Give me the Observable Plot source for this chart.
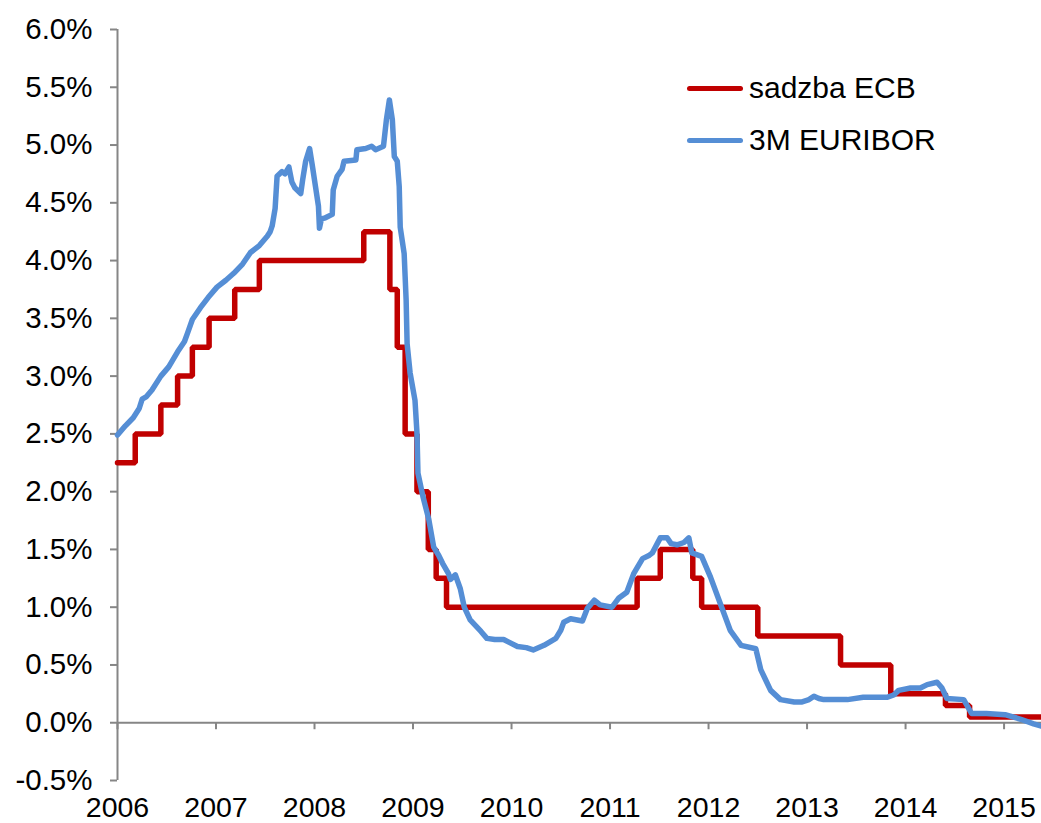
<!DOCTYPE html>
<html><head><meta charset="utf-8">
<script src="https://cdn.jsdelivr.net/npm/d3@7"></script>
<script src="https://cdn.jsdelivr.net/npm/@observablehq/plot@0.6"></script>
<style>
body{margin:0;background:#fff;}
#wrap{position:relative;width:1041px;height:823px;font-family:"Liberation Sans",Arial,sans-serif;}
.leg{position:absolute;left:687px;height:34px;font-size:30px;display:flex;align-items:center;color:#000;white-space:nowrap;}
.leg .sw{display:inline-block;width:56px;height:5px;border-radius:3px;margin-right:6px;}
</style></head>
<body>
<div id="wrap"></div>
<script>
// ECB main refinancing rate (step changes), time in decimal years
const ecbT = [2006.0, 2006.18, 2006.44, 2006.61, 2006.76, 2006.93, 2007.19, 2007.44, 2008.50, 2008.765, 2008.84, 2008.92, 2009.04, 2009.155, 2009.235, 2009.34, 2011.275, 2011.51, 2011.84, 2011.93, 2012.50, 2013.34, 2013.85, 2014.405, 2014.65, 2015.38];
const ecbV = [2.25, 2.50, 2.75, 3.00, 3.25, 3.50, 3.75, 4.00, 4.25, 3.75, 3.25, 2.50, 2.00, 1.50, 1.25, 1.00, 1.25, 1.50, 1.25, 1.00, 0.75, 0.50, 0.25, 0.15, 0.05, 0.05];

// 3M EURIBOR readings
const euriborT = [2006.00, 2006.08, 2006.16, 2006.22, 2006.25, 2006.29, 2006.35, 2006.44, 2006.52, 2006.61, 2006.68, 2006.71, 2006.76, 2006.84, 2006.92, 2007.01, 2007.10, 2007.18, 2007.27, 2007.35, 2007.44, 2007.52, 2007.55, 2007.57, 2007.60, 2007.62, 2007.67, 2007.70, 2007.74, 2007.77, 2007.80, 2007.86, 2007.88, 2007.91, 2007.95, 2007.98, 2008.01, 2008.04, 2008.05, 2008.07, 2008.11, 2008.18, 2008.19, 2008.23, 2008.28, 2008.30, 2008.42, 2008.43, 2008.52, 2008.58, 2008.62, 2008.70, 2008.73, 2008.76, 2008.79, 2008.81, 2008.84, 2008.86, 2008.87, 2008.91, 2008.92, 2008.93, 2008.94, 2008.97, 2009.02, 2009.04, 2009.05, 2009.10, 2009.16, 2009.21, 2009.26, 2009.30, 2009.36, 2009.38, 2009.43, 2009.48, 2009.52, 2009.58, 2009.69, 2009.75, 2009.83, 2009.92, 2010.06, 2010.15, 2010.22, 2010.33, 2010.45, 2010.50, 2010.53, 2010.60, 2010.72, 2010.77, 2010.84, 2010.90, 2011.02, 2011.09, 2011.17, 2011.24, 2011.33, 2011.40, 2011.43, 2011.51, 2011.58, 2011.62, 2011.68, 2011.75, 2011.80, 2011.83, 2011.93, 2012.02, 2012.12, 2012.22, 2012.33, 2012.48, 2012.53, 2012.58, 2012.63, 2012.73, 2012.87, 2012.95, 2013.02, 2013.07, 2013.12, 2013.17, 2013.41, 2013.57, 2013.81, 2013.88, 2013.93, 2014.05, 2014.15, 2014.22, 2014.32, 2014.37, 2014.42, 2014.59, 2014.67, 2014.82, 2015.01, 2015.17, 2015.30, 2015.38];
const euriborV = [2.49, 2.57, 2.64, 2.72, 2.80, 2.82, 2.88, 3.00, 3.08, 3.21, 3.30, 3.37, 3.49, 3.59, 3.68, 3.77, 3.83, 3.89, 3.97, 4.07, 4.13, 4.21, 4.25, 4.30, 4.45, 4.73, 4.77, 4.75, 4.81, 4.68, 4.63, 4.58, 4.70, 4.86, 4.97, 4.81, 4.64, 4.47, 4.28, 4.36, 4.37, 4.40, 4.61, 4.73, 4.79, 4.86, 4.87, 4.96, 4.97, 4.99, 4.96, 4.99, 5.22, 5.39, 5.22, 4.90, 4.86, 4.64, 4.29, 4.06, 3.86, 3.66, 3.28, 3.03, 2.79, 2.51, 2.16, 1.96, 1.76, 1.52, 1.45, 1.38, 1.29, 1.24, 1.28, 1.16, 1.00, 0.89, 0.79, 0.73, 0.72, 0.72, 0.66, 0.65, 0.63, 0.67, 0.73, 0.80, 0.87, 0.90, 0.88, 0.99, 1.06, 1.02, 1.00, 1.08, 1.13, 1.29, 1.42, 1.45, 1.47, 1.60, 1.60, 1.55, 1.54, 1.56, 1.60, 1.47, 1.44, 1.26, 1.03, 0.80, 0.67, 0.64, 0.46, 0.37, 0.28, 0.20, 0.18, 0.18, 0.20, 0.23, 0.21, 0.20, 0.20, 0.22, 0.22, 0.24, 0.28, 0.30, 0.30, 0.33, 0.35, 0.30, 0.21, 0.20, 0.08, 0.08, 0.07, 0.03, -0.01, -0.03];

const yearTicks = [2006, 2007, 2008, 2009, 2010, 2011, 2012, 2013, 2014, 2015];
const yTicks = [-0.5, 0, 0.5, 1, 1.5, 2, 2.5, 3, 3.5, 4, 4.5, 5, 5.5, 6];
const seriesNames = ["sadzba ECB", "3M EURIBOR"];
const seriesColors = ["#C00000", "#558ED5"];

const ecb = ecbT.map((t, i) => ({t, v: ecbV[i]}));
const euribor = euriborT.map((t, i) => ({t, v: euriborV[i]}));
const axisGray = "#868686";

const chart = Plot.plot({
  width: 1041,
  height: 823,
  marginLeft: 117,
  marginRight: 0,
  marginTop: 29,
  marginBottom: 43,
  style: {fontFamily: '"Liberation Sans", Arial, sans-serif', fontSize: "29px", color: "#000", background: "#fff"},
  x: {domain: [2006, 2015.38], label: null},
  y: {domain: [-0.5, 6.0], label: null},
  marks: [
    Plot.ruleY([0], {stroke: axisGray, strokeWidth: 2}),
    Plot.ruleX(yearTicks, {x: d => d, y1: 0, y2: 0, insetBottom: -7, stroke: axisGray, strokeWidth: 2}),
    Plot.ruleX([2006], {stroke: axisGray, strokeWidth: 2}),
    Plot.axisY({ticks: yTicks, tickFormat: d => d.toFixed(1) + "%", tickSize: 7, tickPadding: 18, stroke: axisGray, strokeWidth: 2, fill: "#000", fontSize: 29.5, label: null}),
    Plot.axisX({ticks: yearTicks, tickFormat: d => String(d), tickSize: 0, tickPadding: 16, fill: "#000", fontSize: 28.5, label: null}),
    Plot.line(ecb, {x: "t", y: "v", curve: "step-after", stroke: seriesColors[0], strokeWidth: 5.5, strokeLinejoin: "miter"}),
    Plot.line(euribor, {x: "t", y: "v", stroke: seriesColors[1], strokeWidth: 5.5, strokeLinejoin: "round", strokeLinecap: "round"})
  ]
});
const wrap = document.getElementById("wrap");
wrap.appendChild(chart);

const legTops = [71, 123];
seriesNames.forEach((name, i) => {
  const row = document.createElement("div");
  row.className = "leg";
  row.style.top = legTops[i] + "px";
  const sw = document.createElement("span");
  sw.className = "sw";
  sw.style.background = seriesColors[i];
  row.appendChild(sw);
  row.appendChild(document.createTextNode(name));
  wrap.appendChild(row);
});
</script>
</body></html>
